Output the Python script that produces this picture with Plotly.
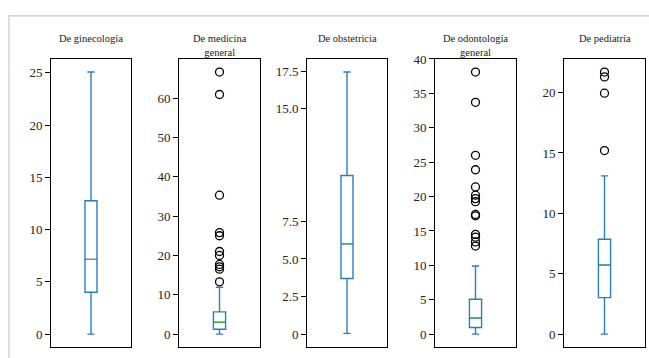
import plotly.graph_objects as go

# ---------------- data ----------------
titles = ["De ginecología", "De medicina<br>general", "De obstetricia",
          "De odontología<br>general", "De pediatría"]
lower_fence = [0.0, 0.0, 0.05, 0.0, 0.0]
q1_vals = [4.0, 1.25, 3.7, 0.96, 3.02]
median_vals = [7.15, 3.0, 6.0, 2.34, 5.72]
q3_vals = [12.77, 5.65, 10.55, 5.07, 7.85]
upper_fence = [25.08, 11.9, 17.43, 9.9, 13.1]
outliers = [
    [],
    [66.6, 60.9, 35.3, 25.8, 25.0, 21.0, 20.0, 17.7, 17.1, 16.5, 13.3],
    [],
    [38.1, 33.7, 26.0, 23.9, 21.4, 20.2, 19.7, 19.25, 17.4, 17.2, 14.5, 14.1, 13.4, 12.8],
    [21.7, 21.3, 19.95, 15.2],
]
tick_values = [
    [0, 5, 10, 15, 20, 25],
    [0, 10, 20, 30, 40, 50, 60, 70],
    [0, 2.5, 5.0, 7.5, 15.0, 17.5],
    [0, 5, 10, 15, 20, 25, 30, 35, 40],
    [0, 5, 10, 15, 20],
]
tick_labels = [
    ["0", "5", "10", "15", "20", "25"],
    ["0", "10", "20", "30", "40", "50", "60", "70"],
    ["0", "2.5", "5.0", "7.5", "15.0", "17.5"],
    ["0", "5", "10", "15", "20", "25", "30", "35", "40"],
    ["0", "5", "10", "15", "20"],
]

# ---------------- layout helpers ----------------
W, H = 649, 358
panel_px = [(51, 131), (179, 260), (307, 387), (435, 516), (564, 645)]
top_px, bot_px = 53, 347
FONT = "Liberation Serif, DejaVu Serif, serif"
BLUE = "#2a7dc0"
GREEN = "#4caf50"

fig = go.Figure()
layout = dict(
    width=W, height=H,
    margin=dict(l=0, r=0, t=0, b=0),
    paper_bgcolor="white", plot_bgcolor="white",
    showlegend=False, boxmode="overlay",
    font=dict(family=FONT, size=12, color="#222"),
    annotations=[], shapes=[],
)

for i in range(5):
    n = "" if i == 0 else str(i + 1)
    xa, ya = "x" + n, "y" + n
    cat = ["c"]
    fig.add_trace(go.Box(
        x=cat, q1=[q1_vals[i]], median=[median_vals[i]], q3=[q3_vals[i]],
        lowerfence=[lower_fence[i]], upperfence=[upper_fence[i]],
        width=0.15, whiskerwidth=0.6, boxpoints=False,
        line=dict(color=BLUE, width=1.4), fillcolor="white",
        xaxis=xa, yaxis=ya, hoverinfo="skip"))
    m = median_vals[i]
    fig.add_trace(go.Box(
        x=cat, q1=[m], median=[m], q3=[m], lowerfence=[m], upperfence=[m],
        width=0.13, whiskerwidth=0, boxpoints=False,
        line=dict(color=GREEN, width=1.2), fillcolor="rgba(0,0,0,0)",
        xaxis=xa, yaxis=ya, hoverinfo="skip"))
    if outliers[i]:
        fig.add_trace(go.Scatter(
            x=cat * len(outliers[i]), y=outliers[i], mode="markers",
            marker=dict(symbol="circle-open", size=8, color="black",
                        line=dict(width=1.3, color="black")),
            xaxis=xa, yaxis=ya, hoverinfo="skip"))
    ymax = max([upper_fence[i]] + outliers[i])
    x0, x1 = panel_px[i]
    layout["xaxis" + n] = dict(
        domain=[x0 / W, x1 / W], anchor=ya, type="category",
        range=[-0.5, 0.5], showticklabels=False, ticks="",
        showgrid=False, zeroline=False, showline=True, mirror=True,
        linecolor="black", linewidth=1)
    layout["yaxis" + n] = dict(
        domain=[1 - bot_px / H, 1 - top_px / H], anchor=xa,
        range=[-0.05 * ymax, 1.05 * ymax],
        tickvals=tick_values[i], ticktext=tick_labels[i],
        ticks="outside", ticklen=5, tickwidth=1, tickcolor="black",
        showgrid=False, zeroline=False, showline=True, mirror=True,
        linecolor="black", linewidth=1,
        tickfont=dict(family=FONT, size=13, color="#222"))
    layout["annotations"].append(dict(
        text=titles[i], x=(x0 + x1) / 2 / W, y=1 - 24 / H,
        xref="paper", yref="paper", xanchor="center", yanchor="top",
        showarrow=False, align="center",
        font=dict(family=FONT, size=10.5, color="#222")))

# light gray outer frame
layout["shapes"].append(dict(
    type="rect", xref="paper", yref="paper",
    x0=9 / W, x1=1.2, y0=-0.2, y1=1 - 9 / H,
    line=dict(color="#c8c8c8", width=1.2), fillcolor="rgba(0,0,0,0)",
    layer="below"))

fig.update_layout(**layout)
fig.write_html("out.html", config={"displayModeBar": False},
               post_script="document.body.style.margin='0px';document.body.style.overflow='hidden';")
